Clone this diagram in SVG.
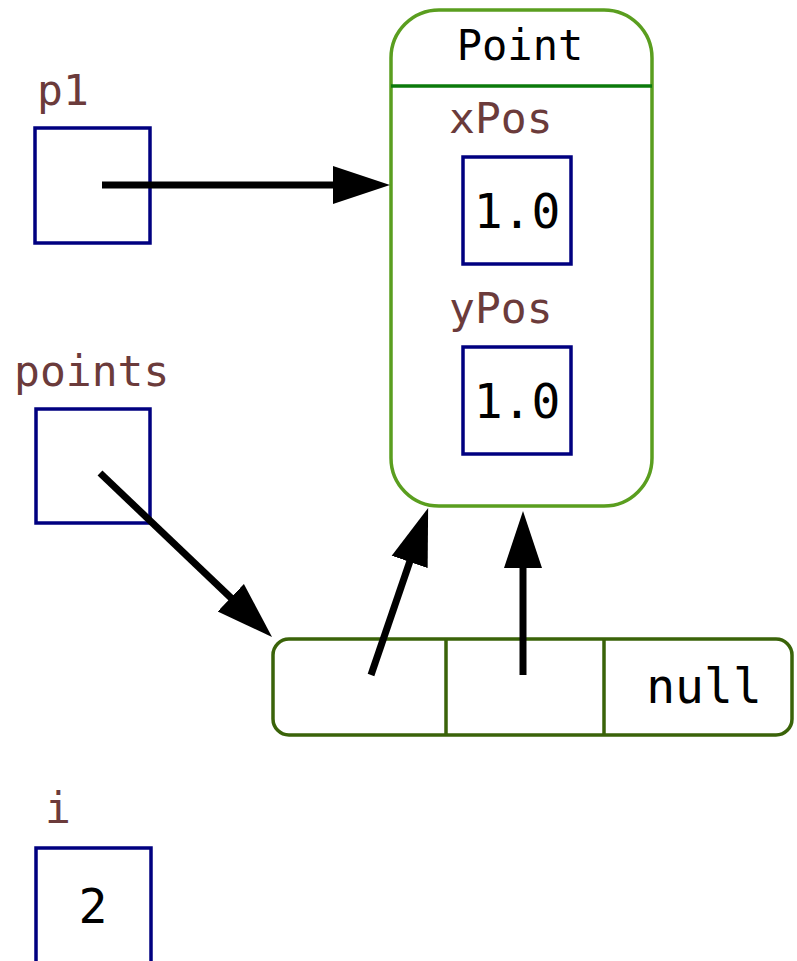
<svg xmlns="http://www.w3.org/2000/svg" width="797" height="961" viewBox="0 0 797 961">
<style>
.lbl{font-family:"DejaVu Sans Mono",monospace;font-size:43px;fill:#6b3b3b}
.val{font-family:"DejaVu Sans Mono",monospace;font-size:48px;fill:#000}
.var{fill:#fff;stroke:#000080;stroke-width:3.5}
.conn{stroke:#000;stroke-width:7;fill:none}
</style>
<defs>
<marker id="ah" markerUnits="userSpaceOnUse" markerWidth="58" markerHeight="40" viewBox="0 0 58 40" refX="1" refY="20" orient="auto">
<path d="M0,1 L57,20 L0,39 z" fill="#000"/>
</marker>
</defs>
<rect width="797" height="961" fill="#fff"/>
<g id="p1">
<text class="lbl" x="37" y="105">p1</text>
<rect class="var" x="35" y="128" width="115" height="115"/>
</g>
<g id="points">
<text class="lbl" x="14" y="386">points</text>
<rect class="var" x="36" y="409" width="114" height="114"/>
</g>
<g id="i">
<text class="lbl" x="45" y="823">i</text>
<rect class="var" x="36" y="848" width="115" height="130"/>
<text class="val" x="93" y="923" text-anchor="middle">2</text>
</g>
<g id="point">
<rect x="391" y="10" width="261" height="496" rx="48" ry="48" fill="#fff" stroke="#5a9e1f" stroke-width="3.5"/>
<line x1="391" y1="86" x2="652" y2="86" stroke="#0b7a0b" stroke-width="3.5"/>
<text x="520" y="60" text-anchor="middle" font-family="DejaVu Sans Mono, monospace" font-size="42" fill="#000">Point</text>
<text class="lbl" x="449" y="133">xPos</text>
<rect class="var" x="463" y="157" width="108" height="107"/>
<text class="val" x="517" y="228" text-anchor="middle">1.0</text>
<text class="lbl" x="449" y="323">yPos</text>
<rect class="var" x="463" y="347" width="108" height="107"/>
<text class="val" x="517" y="418" text-anchor="middle">1.0</text>
</g>
<g id="array">
<rect x="273" y="639" width="519" height="96" rx="16" ry="16" fill="#fff" stroke="#3a6309" stroke-width="3.5"/>
<line x1="446" y1="639" x2="446" y2="735" stroke="#3a6309" stroke-width="3.5"/>
<line x1="604" y1="639" x2="604" y2="735" stroke="#3a6309" stroke-width="3.5"/>
<text class="val" x="704" y="703" text-anchor="middle" font-size="44">null</text>
</g>
<g id="connectors">
<line class="conn" x1="102" y1="185" x2="334" y2="185" marker-end="url(#ah)"/>
<line class="conn" x1="100" y1="473" x2="231.5" y2="598.4" marker-end="url(#ah)"/>
<line class="conn" x1="371" y1="675" x2="410" y2="561" marker-end="url(#ah)"/>
<line class="conn" x1="523" y1="675" x2="523" y2="567" marker-end="url(#ah)"/>
</g>
</svg>
